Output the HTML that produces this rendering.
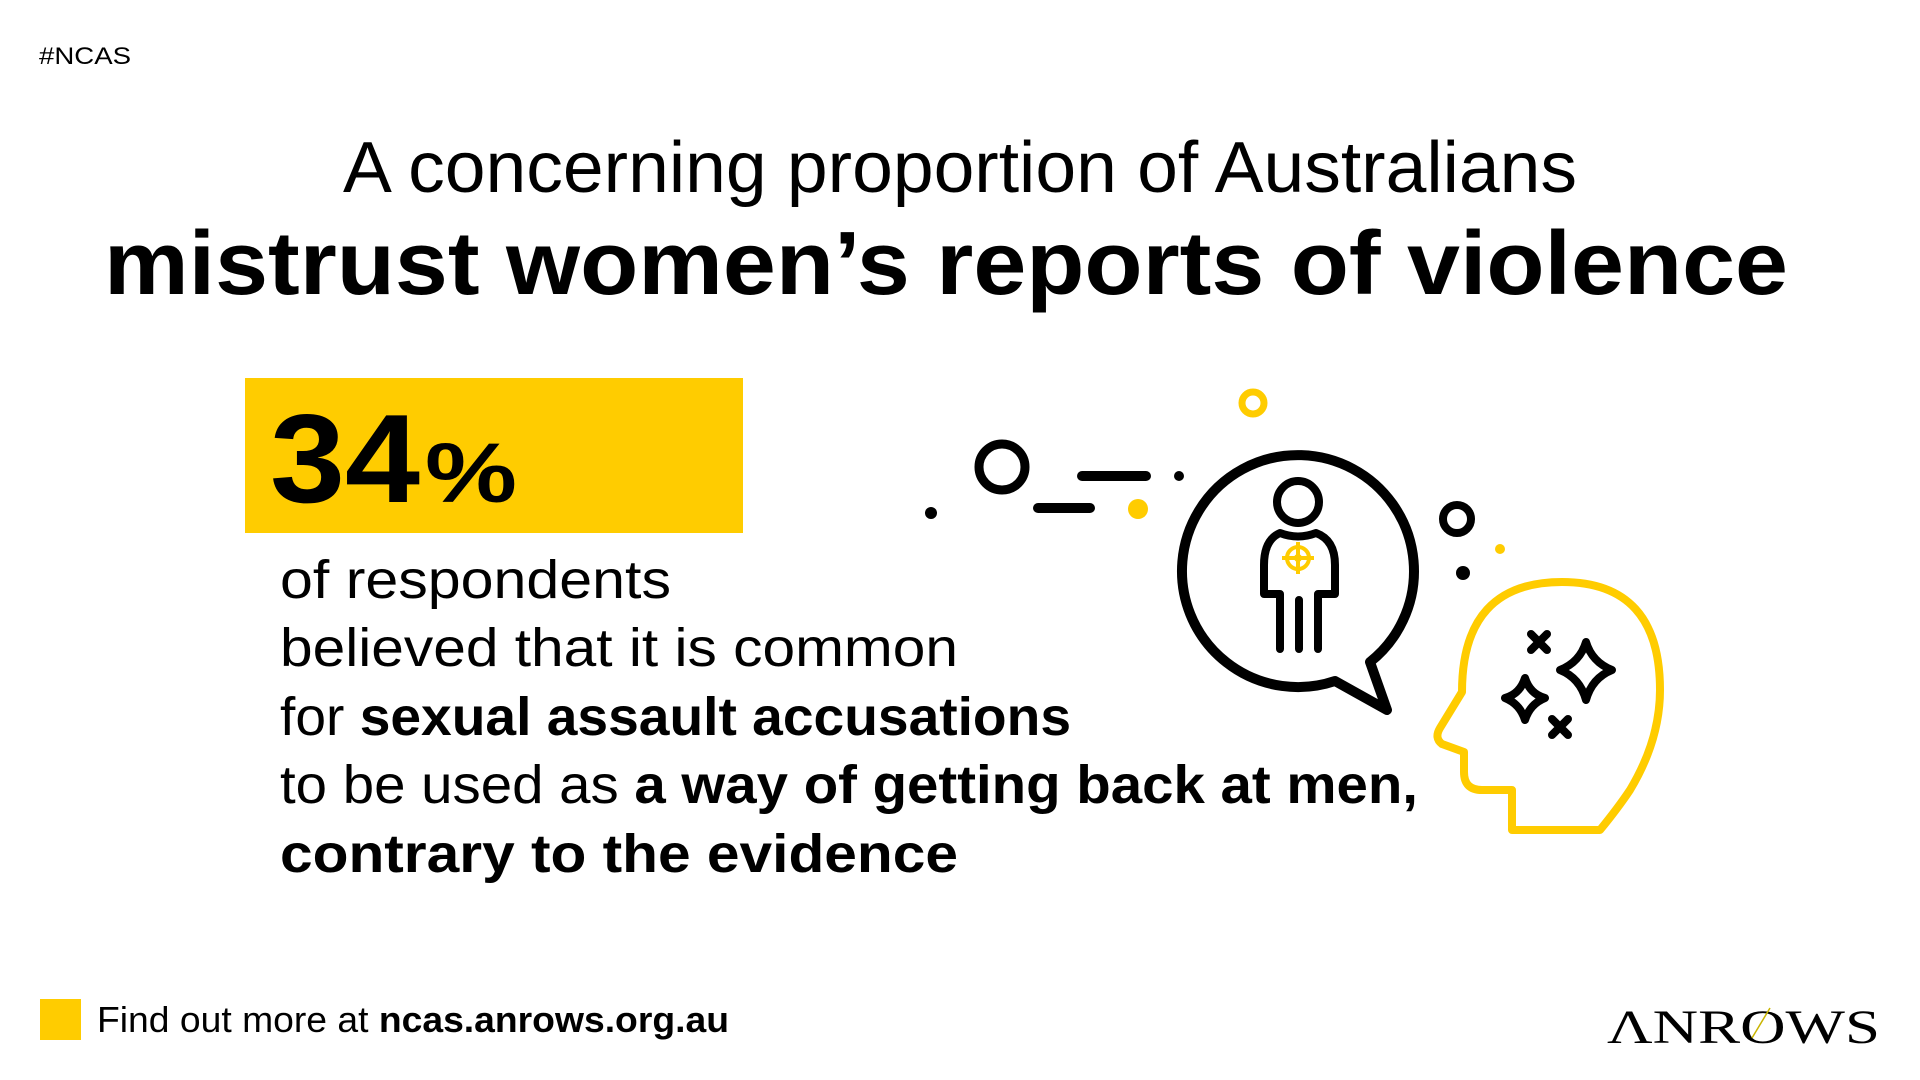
<!DOCTYPE html>
<html><head><meta charset="utf-8"><style>html,body{margin:0;padding:0;background:#fff}svg{display:block}</style></head>
<body>
<svg width="1920" height="1080" viewBox="0 0 1920 1080" xmlns="http://www.w3.org/2000/svg" font-family="Liberation Sans, sans-serif">
<rect width="1920" height="1080" fill="#fff"/>
<text x="39" y="64" font-size="24" textLength="92" lengthAdjust="spacingAndGlyphs">#NCAS</text>
<text x="343" y="192" font-size="72" textLength="1234" lengthAdjust="spacingAndGlyphs">A concerning proportion of Australians</text>
<text x="104" y="294" font-size="90" font-weight="bold" textLength="1684" lengthAdjust="spacingAndGlyphs">mistrust women’s reports of violence</text>
<rect x="245" y="378" width="498" height="155" fill="#FFCC00"/>
<text x="270" y="502" font-size="126" font-weight="bold" textLength="150" lengthAdjust="spacingAndGlyphs">34</text>
<text x="425" y="502" font-size="84" font-weight="bold" textLength="92" lengthAdjust="spacingAndGlyphs">%</text>
<g font-size="54">
<text x="280" y="598" textLength="391" lengthAdjust="spacingAndGlyphs">of respondents</text>
<text x="280" y="666" textLength="678" lengthAdjust="spacingAndGlyphs">believed that it is common</text>
<text x="280" y="735" textLength="791" lengthAdjust="spacingAndGlyphs">for <tspan font-weight="bold">sexual assault accusations</tspan></text>
<text x="280" y="803" textLength="1138" lengthAdjust="spacingAndGlyphs">to be used as <tspan font-weight="bold">a way of getting back at men,</tspan></text>
<text x="280" y="872" font-weight="bold" textLength="678" lengthAdjust="spacingAndGlyphs">contrary to the evidence</text>
</g>
<rect x="40" y="999" width="41" height="41" fill="#FFCC00"/>
<text x="97" y="1032" font-size="36" textLength="632" lengthAdjust="spacingAndGlyphs">Find out more at <tspan font-weight="bold">ncas.anrows.org.au</tspan></text>
<text x="1607" y="1043" font-size="48" font-family="Liberation Serif, serif" textLength="273" lengthAdjust="spacingAndGlyphs">ΛNROWS</text>
<line x1="1752" y1="1038" x2="1770" y2="1008" stroke="#c9b400" stroke-width="1.5"/>
<g fill="none" stroke="#000" stroke-width="9" stroke-linecap="round" stroke-linejoin="round">
<circle cx="1253" cy="403" r="11" stroke="#FFCC00" stroke-width="7"/>
<circle cx="1002" cy="467" r="23"/>
<line x1="1082" y1="476" x2="1146" y2="476" stroke-width="10"/>
<line x1="1038" y1="508" x2="1090" y2="508" stroke-width="10"/>
<path d="M1370,662 L1387,710 L1335,681 A116,116 0 1 1 1370,662" stroke-width="10"/>
<circle cx="1298" cy="502" r="21" stroke-width="8"/>
<path d="M1280,533 Q1264,540 1264,565 L1264,594 L1280,594 L1280,649 M1316,533 Q1335,540 1335,565 L1335,594 L1318,594 L1318,649 M1280,533 Q1298,540 1316,533 M1299,600 L1299,649" stroke-width="8"/>
<circle cx="1457" cy="519" r="14" stroke-width="8"/>
<path d="M1512,830 L1512,790 L1482,790 Q1464,790 1464,772 L1464,752 L1442,744 Q1434,738 1440,728 L1462,692 Q1462,582 1562,582 Q1660,582 1660,690 Q1660,740 1630,790 Q1618,808 1600,830 Z" stroke="#FFCC00" stroke-width="8"/>
<path d="M1586,642 Q1592,662 1612,670 Q1592,678 1586,700 Q1580,678 1560,670 Q1580,662 1586,642 Z" stroke-width="8"/>
<path d="M1525,678 Q1530,694 1545,698 Q1530,704 1525,720 Q1520,704 1505,698 Q1520,694 1525,678 Z" stroke-width="8"/>
<path d="M1531,634 L1547,650 M1547,634 L1531,650 M1552,719 L1568,735 M1568,719 L1552,735" stroke-width="8"/>
</g>
<g stroke="#FFCC00" stroke-width="4" fill="none"><circle cx="1298" cy="558" r="11"/><line x1="1298" y1="542" x2="1298" y2="574"/><line x1="1282" y1="558" x2="1314" y2="558"/></g>
<circle cx="1298" cy="558" r="4" fill="#FFCC00"/>
<circle cx="931" cy="513" r="6"/>
<circle cx="1179" cy="476" r="5"/>
<circle cx="1138" cy="509" r="10" fill="#FFCC00"/>
<circle cx="1500" cy="549" r="5" fill="#FFCC00"/>
<circle cx="1463" cy="573" r="7"/>
</svg>
</body></html>
